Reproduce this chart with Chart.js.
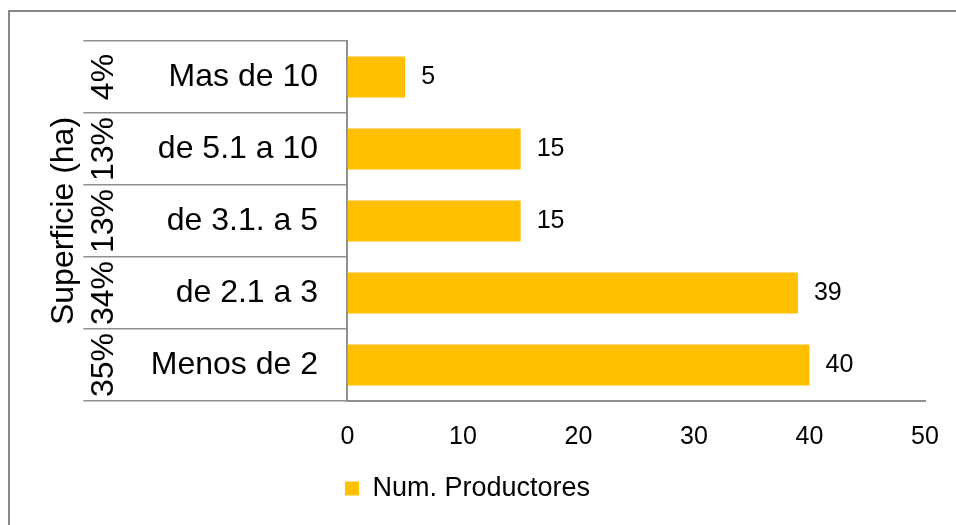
<!DOCTYPE html>
<html lang="es">
<head>
  <meta charset="UTF-8" />
  <title>Superficie (ha) - Num. Productores</title>
  <script src="https://cdn.jsdelivr.net/npm/chart.js"></script>
  <style>
    html, body { margin: 0; padding: 0; background: #fff; }
    #wrap { width: 956px; height: 525px; }
  </style>
</head>
<body>
  <div id="wrap"><canvas id="grafica"></canvas></div>
  <script>
    const categorias = ['Mas de 10', 'de 5.1 a 10', 'de 3.1. a 5', 'de 2.1 a 3', 'Menos de 2'];
    const porcentajes = ['4%', '13%', '13%', '34%', '35%'];
    const productores = [5, 15, 15, 39, 40];

    Chart.defaults.font.family = "'Liberation Sans', Arial, sans-serif";
    Chart.defaults.color = '#000';

    const gris = '#8f8f8f';

    // marco exterior, porcentajes, categorias y valores
    const etiquetas = {
      id: 'etiquetas',
      beforeDraw(chart) {
        const ctx = chart.ctx;
        ctx.save();
        ctx.strokeStyle = '#888';
        ctx.lineWidth = 2;
        ctx.beginPath();
        ctx.moveTo(9, 525);
        ctx.lineTo(9, 11);
        ctx.lineTo(956, 11);
        ctx.stroke();
        ctx.restore();
      },
      afterDraw(chart) {
        const ctx = chart.ctx;
        const y = chart.scales.y;
        const meta = chart.getDatasetMeta(0);
        ctx.save();
        ctx.fillStyle = '#000';
        ctx.textBaseline = 'middle';
        categorias.forEach((c, i) => {
          const py = y.getPixelForValue(i);
          ctx.font = "32px 'Liberation Sans', Arial, sans-serif";
          ctx.textAlign = 'right';
          ctx.fillText(c, 318, py);

          ctx.save();
          ctx.translate(104, py);
          ctx.rotate(-Math.PI / 2);
          ctx.textAlign = 'center';
          ctx.fillText(porcentajes[i], 0, 0);
          ctx.restore();

          const bar = meta.data[i];
          ctx.font = "25px 'Liberation Sans', Arial, sans-serif";
          ctx.textAlign = 'left';
          ctx.fillText(String(productores[i]), bar.x + 16, py);
        });
        ctx.restore();
      }
    };

    new Chart(document.getElementById('grafica'), {
      type: 'bar',
      data: {
        labels: categorias,
        datasets: [{
          label: 'Num. Productores',
          data: productores,
          backgroundColor: '#FFC000',
          borderWidth: 0,
          categoryPercentage: 1,
          barPercentage: 0.57
        }]
      },
      options: {
        indexAxis: 'y',
        responsive: true,
        maintainAspectRatio: false,
        animation: false,
        layout: { padding: { left: 10, right: 31, top: 41, bottom: 13 } },
        scales: {
          x: {
            min: 0,
            max: 50,
            ticks: { stepSize: 10, font: { size: 25 }, padding: 13 },
            grid: { display: false },
            border: { display: true, color: gris, width: 2 }
          },
          y: {
            ticks: { display: false },
            grid: {
              offset: true,
              drawOnChartArea: false,
              drawTicks: true,
              tickLength: 264,
              color: gris,
              lineWidth: 1.5
            },
            border: { display: true, color: gris, width: 2 },
            title: {
              display: true,
              text: 'Superficie (ha)',
              font: { size: 32 },
              padding: { top: 35, bottom: 0 }
            }
          }
        },
        plugins: {
          legend: {
            position: 'bottom',
            labels: { boxWidth: 14, boxHeight: 14, font: { size: 27 }, padding: 10 }
          },
          tooltip: { enabled: false }
        }
      },
      plugins: [etiquetas]
    });
  </script>
</body>
</html>
